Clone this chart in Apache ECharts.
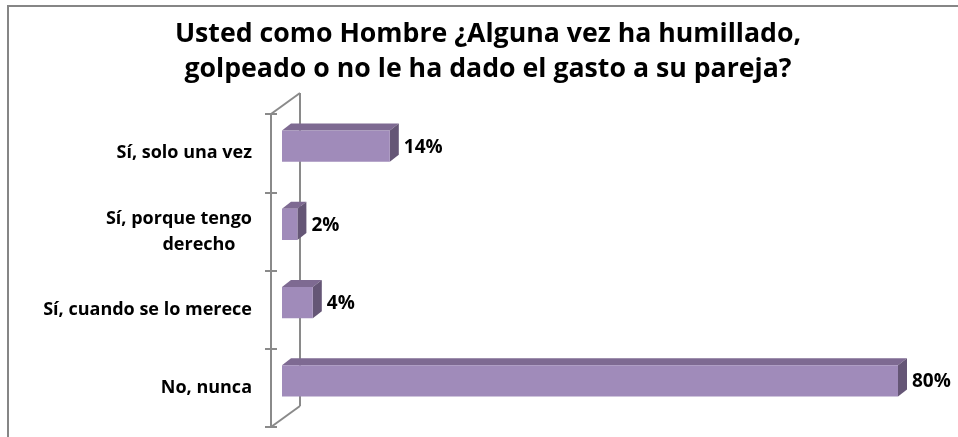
<!DOCTYPE html>
<html>
<head>
<meta charset="utf-8">
<script src="https://cdn.jsdelivr.net/npm/echarts@6/dist/echarts.min.js"></script>
<style>
  html, body { margin: 0; padding: 0; background: #fff; }
  #chart { width: 958px; height: 437px; }
</style>
</head>
<body>
<div id="chart"></div>
<script>
const categories = ["Sí, solo una vez", "Sí, porque tengo derecho", "Sí, cuando se lo merece", "No, nunca"];
const values = [14, 2, 4, 80];
const titleText = "Usted como Hombre ¿Alguna vez ha humillado,\ngolpeado o no le ha dado el gasto a su pareja?";

// layout of the "3D" frame
const gridLeft = 271, gridTop = 114, gridBottom = 10, gridRight = 71;
const barDx = 11, barDy = -7;      // bars sit a bit behind the front axis
const depthX = 9, depthY = -7;     // bar top/side thickness
const wallX = 29, wallY = -21;     // back wall offset
const H = 437;

const front = "#a08bba", topC = "#7e6a92", sideC = "#655676", axisC = "#8a8a8a";
const font = "'Open Sans'";

function renderBar(params, api) {
  const idx = api.value(1);
  const s = api.coord([0, idx]);
  const e = api.coord([api.value(0), idx]);
  const bw = api.size([0, 1])[1] * 0.4;
  const x0 = s[0] + barDx, x1 = e[0] + barDx;
  const yc = s[1] + barDy;
  const t = yc - bw / 2, b = yc + bw / 2;
  return {
    type: "group",
    children: [
      { type: "polygon", shape: { points: [[x0, t], [x1, t], [x1 + depthX, t + depthY], [x0 + depthX, t + depthY]] }, style: { fill: topC } },
      { type: "polygon", shape: { points: [[x1, t], [x1 + depthX, t + depthY], [x1 + depthX, b + depthY], [x1, b]] }, style: { fill: sideC } },
      { type: "rect", shape: { x: x0, y: t, width: x1 - x0, height: b - t }, style: { fill: front } },
      { type: "text", style: { x: x1 + depthX + 5, y: yc + 1, text: api.value(0) + "%", font: "bold 19px " + font, fill: "#000", textVerticalAlign: "middle" } }
    ]
  };
}

const chart = echarts.init(document.getElementById("chart"));
const bottomY = H - gridBottom;
chart.setOption({
  animation: false,
  title: {
    text: titleText,
    left: 488, top: 17, textAlign: "center", padding: 0,
    textStyle: { fontFamily: "Open Sans", fontWeight: "bold", fontSize: 26.7, lineHeight: 35, color: "#000" }
  },
  grid: { left: gridLeft, top: gridTop, bottom: gridBottom, right: gridRight },
  xAxis: { type: "value", min: 0, max: 80, show: false },
  yAxis: [
    {
      type: "category", data: categories, inverse: true,
      axisLine: { show: true, lineStyle: { color: axisC, width: 2 } },
      axisTick: { show: true, interval: 0, length: 6, lineStyle: { color: axisC, width: 2 } },
      axisLabel: {
        margin: 19, color: "#000", fontFamily: "Open Sans", fontWeight: "bold", fontSize: 18,
        formatter: function (v) {
          if (v === "Sí, porque tengo derecho") return "{a|Sí, porque tengo}\n{b|derecho}";
          return "{a|" + v + "}";
        },
        rich: {
          a: { fontFamily: "Open Sans", fontWeight: "bold", fontSize: 18, color: "#000", lineHeight: 26 },
          b: { fontFamily: "Open Sans", fontWeight: "bold", fontSize: 18, color: "#000", lineHeight: 26, padding: [0, 0, 0, 40], align: "center" }
        }
      }
    },
    {
      type: "category", data: categories, inverse: true, position: "left",
      axisLine: { show: false }, axisLabel: { show: false },
      axisTick: { show: true, interval: 0, inside: true, length: 6, lineStyle: { color: axisC, width: 2 } }
    }
  ],
  graphic: [
    { type: "rect", shape: { x: 8, y: 6, width: 960, height: 440 }, style: { fill: null, stroke: "#868686", lineWidth: 2 } },
    { type: "line", shape: { x1: gridLeft + wallX, y1: gridTop + wallY, x2: gridLeft + wallX, y2: bottomY + wallY }, style: { stroke: axisC, lineWidth: 2 } },
    { type: "line", shape: { x1: gridLeft, y1: gridTop, x2: gridLeft + wallX, y2: gridTop + wallY }, style: { stroke: axisC, lineWidth: 2 } },
    { type: "line", shape: { x1: gridLeft, y1: bottomY, x2: gridLeft + wallX, y2: bottomY + wallY }, style: { stroke: axisC, lineWidth: 2 } }
  ],
  series: [{
    type: "custom",
    renderItem: renderBar,
    encode: { x: 0, y: 1 },
    data: values.map((v, i) => [v, i]),
    z: 3
  }]
});
</script>
</body>
</html>
